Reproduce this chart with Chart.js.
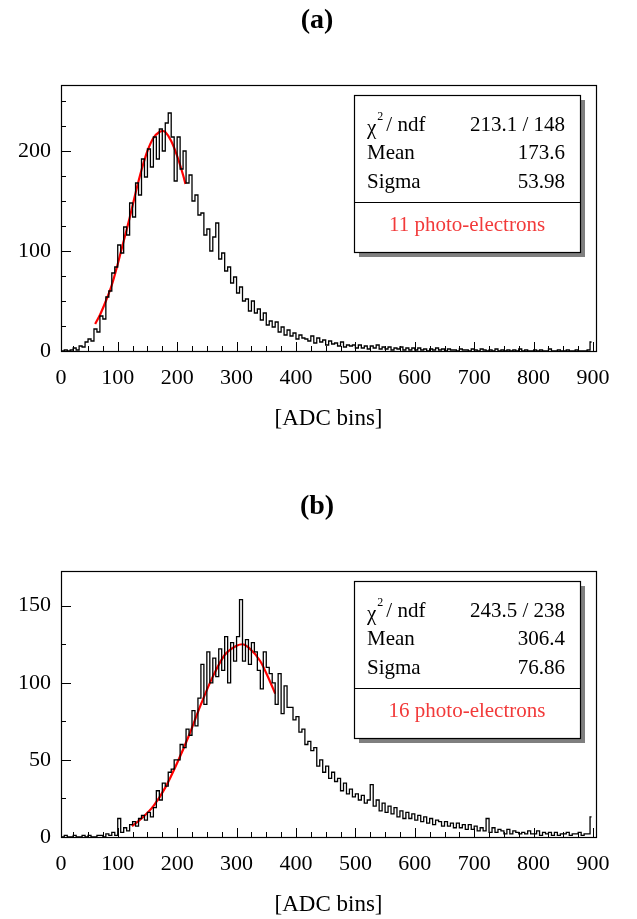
<!DOCTYPE html>
<html>
<head>
<meta charset="utf-8">
<script src="https://cdn.jsdelivr.net/npm/chart.js@4.4.1/dist/chart.umd.min.js"></script>
<style>
  html, body { margin: 0; padding: 0; background: #fff; }
  .panel { position: absolute; left: 0; width: 637px; height: 433px; }
</style>
</head>
<body>
<div class="panel" style="top:0"><canvas id="histA" width="637" height="433"></canvas></div>
<div class="panel" style="top:486px"><canvas id="histB" width="637" height="433"></canvas></div>
<script>
// 5 ADC-bin wide bins starting at 0, one row per 100 ADC bins
const binWidth = 5;

const countsA = [
  0, 0, 1, 0, 1, 3, 1, 5, 4, 9, 12, 10, 22, 19, 35, 32, 54, 60, 78, 84,
  106, 98, 124, 116, 148, 134, 168, 156, 192, 174, 202, 184, 214, 192, 222, 200, 228, 238, 214, 170,
  214, 182, 200, 168, 176, 150, 156, 136, 138, 116, 122, 100, 114, 128, 92, 98, 80, 84, 68, 74,
  58, 64, 50, 52, 40, 50, 38, 42, 31, 38, 26, 30, 24, 29, 19, 24, 16, 21, 15, 18,
  12, 16, 13, 12, 10, 15, 8, 13, 9, 11, 6, 10, 7, 8, 5, 9, 4, 6, 5, 6,
  3, 6, 3, 5, 2, 5, 3, 6, 2, 4, 2, 4, 1, 3, 2, 4, 1, 3, 1, 3,
  1, 3, 1, 2, 0, 2, 1, 3, 1, 2, 0, 2, 1, 1, 0, 2, 1, 1, 0, 2,
  1, 0, 2, 1, 0, 1, 0, 2, 0, 1, 0, 1, 0, 1, 0, 2, 0, 1, 0, 0,
  1, 0, 1, 0, 0, 2, 0, 0, 1, 0, 0, 1, 0, 0, 1, 0, 0, 0, 1, 9
];

const countsB = [
  0, 0, 1, 0, 0, 1, 0, 0, 1, 0, 1, 0, 0, 1, 1, 0, 2, 1, 3, 1,
  12, 3, 6, 4, 8, 10, 7, 12, 14, 11, 16, 13, 19, 30, 24, 35, 33, 42, 44, 50,
  50, 60, 58, 70, 66, 82, 72, 90, 112, 86, 120, 100, 116, 104, 122, 108, 130, 100, 126, 114,
  130, 154, 114, 128, 112, 126, 120, 108, 96, 120, 110, 106, 100, 86, 106, 80, 98, 84, 84, 76,
  78, 68, 70, 60, 62, 56, 58, 46, 50, 42, 46, 38, 42, 36, 38, 30, 35, 28, 31, 26,
  28, 24, 27, 22, 24, 34, 20, 24, 17, 22, 16, 20, 15, 19, 13, 17, 12, 16, 12, 15,
  11, 14, 10, 13, 9, 12, 8, 11, 10, 7, 10, 7, 9, 6, 9, 6, 8, 5, 8, 5,
  7, 4, 6, 4, 12, 3, 6, 3, 5, 4, 2, 5, 2, 4, 3, 2, 3, 2, 4, 2,
  2, 4, 1, 3, 2, 3, 1, 3, 1, 2, 2, 3, 1, 2, 2, 3, 1, 2, 2, 13
];

// gaussian fits
const fitXA = [62, 70, 80, 90, 100, 110, 120, 130, 140, 150, 160, 170, 176, 180, 190, 200, 210, 214];
const fitYA = [27, 36, 50, 66, 87, 110, 133, 158, 181, 200, 213, 219, 220, 219, 210, 195, 176, 167];
const fitXB = [124, 140, 160, 180, 200, 220, 240, 260, 280, 300, 310, 320, 340, 355, 365];
const fitYB = [7, 12, 20, 32, 48, 66, 86, 104, 118, 124, 125, 123, 114, 102, 93];

const xTicks = [0, 100, 200, 300, 400, 500, 600, 700, 800, 900];
const yTicksA = [0, 100, 200];
const yTicksB = [0, 50, 100, 150];

const statsA = [['Mean', '173.6'], ['Sigma', '53.98']];
const statsB = [['Mean', '306.4'], ['Sigma', '76.86']];
const chi2A = '213.1 / 148';
const chi2B = '243.5 / 238';

const serif = "'Liberation Serif', 'Times New Roman', serif";

// ROOT-like frame: box, inward ticks, titles and the stats pave
const rootFrame = {
  id: 'rootFrame',
  afterDraw(chart, args, o) {
    const ctx = chart.ctx;
    const a = chart.chartArea;
    const xs = chart.scales.x, ys = chart.scales.y;
    ctx.save();
    ctx.strokeStyle = '#000';
    ctx.lineWidth = 1.2;
    ctx.strokeRect(a.left + 0.5, a.top + 0.5, a.right - a.left, a.bottom - a.top);

    ctx.lineWidth = 1;
    ctx.beginPath();
    for (let v = 25; v <= xs.max; v += 25) {
      if (v < xs.min) continue;
      const px = Math.round(xs.getPixelForValue(v)) + 0.5;
      const len = v % 100 === 0 ? 9 : 5;
      ctx.moveTo(px, a.bottom);
      ctx.lineTo(px, a.bottom - len);
    }
    for (let v = 25; v <= ys.max; v += 25) {
      const py = Math.round(ys.getPixelForValue(v)) + 0.5;
      const len = v % o.yMajor === 0 ? 10 : 5;
      ctx.moveTo(a.left, py);
      ctx.lineTo(a.left + len, py);
    }
    ctx.stroke();

    ctx.fillStyle = '#000';
    ctx.textAlign = 'center';
    ctx.textBaseline = 'middle';
    ctx.font = 'bold 28px ' + serif;
    ctx.fillText(o.panel, 317, 21);

    ctx.textBaseline = 'alphabetic';
    ctx.font = '23px ' + serif;
    ctx.fillText('[ADC bins]', (a.left + a.right) / 2, 425);

    // stats box
    const bx = 354, by = 95, bw = 226, bh = 157;
    ctx.fillStyle = '#7f7f7f';
    ctx.fillRect(bx + 5, by + 5, bw, bh);
    ctx.fillStyle = '#fff';
    ctx.fillRect(bx, by, bw, bh);
    ctx.strokeStyle = '#000';
    ctx.lineWidth = 1.2;
    ctx.strokeRect(bx + 0.5, by + 0.5, bw, bh);
    ctx.beginPath();
    ctx.moveTo(bx, 202.5);
    ctx.lineTo(bx + bw, 202.5);
    ctx.stroke();

    ctx.fillStyle = '#000';
    ctx.textBaseline = 'middle';
    ctx.font = '21px ' + serif;
    ctx.textAlign = 'left';
    ctx.fillText('\u03C7', 367, 128);
    const chiW = ctx.measureText('\u03C7').width;
    ctx.font = '12px ' + serif;
    ctx.fillText('2', 367 + chiW + 1, 117);
    ctx.font = '21px ' + serif;
    ctx.fillText('/ ndf', 367 + chiW + 10, 125);
    ctx.textAlign = 'right';
    ctx.fillText(o.chi2, 565, 125);
    o.stats.forEach((row, i) => {
      ctx.textAlign = 'left';
      ctx.fillText(row[0], 367, 153 + i * 29);
      ctx.textAlign = 'right';
      ctx.fillText(row[1], 565, 153 + i * 29);
    });
    ctx.textAlign = 'center';
    ctx.fillStyle = '#f23a3a';
    ctx.fillText(o.label, bx + bw / 2, 225);
    ctx.restore();
  }
};

function makeHist(id, counts, fitX, fitY, yMax, yTicks, yMajor, panel, chi2, stats, label) {
  return new Chart(document.getElementById(id), {
    type: 'line',
    data: {
      datasets: [
        {
          data: counts.map((c, i) => ({ x: i * binWidth + binWidth / 2, y: c })),
          stepped: 'middle',
          borderColor: '#000',
          borderWidth: 1.3,
          pointRadius: 0,
          fill: false,
        },
        {
          data: fitX.map((x, i) => ({ x: x, y: fitY[i] })),
          borderColor: '#ff0000',
          borderWidth: 2.2,
          pointRadius: 0,
          cubicInterpolationMode: 'monotone',
          fill: false,
        },
      ],
    },
    options: {
      responsive: false,
      animation: false,
      events: [],
      layout: { padding: { top: 85, right: 41, left: 0, bottom: 0 } },
      scales: {
        x: {
          type: 'linear',
          min: 4.5,
          max: 905,
          grid: { display: false, drawTicks: false },
          border: { display: false },
          afterBuildTicks: scale => {
            scale.ticks = xTicks.map(v => ({ value: Math.max(v, scale.min) }));
          },
          afterFit: scale => { scale.height = 82; },
          ticks: {
            autoSkip: false,
            maxRotation: 0,
            padding: 14,
            color: '#000',
            font: { family: serif, size: 22 },
            callback: (v, i) => String(xTicks[i]),
          },
        },
        y: {
          type: 'linear',
          min: 0,
          max: yMax,
          grid: { display: false, drawTicks: false },
          border: { display: false },
          afterBuildTicks: scale => {
            scale.ticks = yTicks.map(v => ({ value: v }));
          },
          afterFit: scale => { scale.width = 61; },
          ticks: {
            padding: 10,
            color: '#000',
            font: { family: serif, size: 22 },
          },
        },
      },
      plugins: {
        legend: { display: false },
        tooltip: { enabled: false },
        rootFrame: { panel, chi2, stats, label, yMajor },
      },
    },
    plugins: [rootFrame],
  });
}

makeHist('histA', countsA, fitXA, fitYA, 266, yTicksA, 100, '(a)', chi2A, statsA, '11 photo-electrons');
makeHist('histB', countsB, fitXB, fitYB, 172.5, yTicksB, 50, '(b)', chi2B, statsB, '16 photo-electrons');
</script>
</body>
</html>
